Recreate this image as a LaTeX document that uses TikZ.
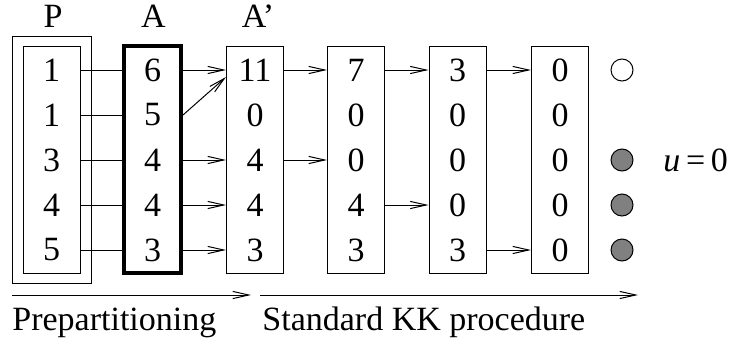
\documentclass[tikz,border=0pt]{standalone}
\usepackage{fontspec}
\setmainfont{Liberation Serif}
\usetikzlibrary{arrows.meta,calc}

\begin{document}
\begin{tikzpicture}[x=0.5pt,y=-0.5pt,
  every node/.style={font=\fontsize{17}{20}\selectfont},
  colbox/.style={draw,line width=0.5pt,minimum width=28.5pt,minimum height=113.5pt,inner sep=0pt},
  entry/.style={inner sep=0pt},
  conn/.style={line width=0.5pt},
  step arrow/.style={conn,-{Straight Barb[length=8pt,width=3.6pt]}},
  token/.style={circle,draw,line width=0.5pt,minimum size=11pt,inner sep=0pt}]

 \useasboundingbox (0,0) rectangle (733,343);

% columns: P, A, A' and the KK steps
 \node[colbox] (P) at (51.5,159.5) {};
 \node[draw,line width=0.5pt,minimum width=39.5pt,minimum height=123.5pt,inner sep=0pt] (Pout) at (51.5,159.5) {};
 \node[colbox,line width=2pt] (A) at (152.5,159.5) {};
 \node[colbox] (Ap) at (255,159.5) {};
 \node[colbox] (K1) at (356,159.5) {};
 \node[colbox] (K2) at (457.5,159.5) {};
 \node[colbox] (K3) at (560,159.5) {};

 \node[anchor=base] (lP) at (53,27) {P};
 \node[anchor=base] (lA) at (153.5,27) {A};
 \node[anchor=base] (lAp) at (258,27) {A'};

% entries
 \foreach \v [count=\j] in {1,1,3,4,5} \node[entry] (P-\j) at (51.5,25+45*\j) {\v};
 \foreach \v [count=\j] in {6,5,4,4,3} \node[entry] (A-\j) at (152.5,25+45*\j) {\v};
 \foreach \v [count=\j] in {11,0,4,4,3} \node[entry] (Ap-\j) at (255,25+45*\j) {\v};
 \foreach \v [count=\j] in {7,0,0,4,3} \node[entry] (K1-\j) at (356,25+45*\j) {\v};
 \foreach \v [count=\j] in {3,0,0,0,3} \node[entry] (K2-\j) at (457.5,25+45*\j) {\v};
 \foreach \v [count=\j] in {0,0,0,0,0} \node[entry] (K3-\j) at (560,25+45*\j) {\v};

% P to A
 \foreach \j in {1,...,5}
  \draw[conn] (P-\j -| P.east) -- (A-\j -| A.west);

% A to A'
 \foreach \j in {1,3,4,5}
  \draw[step arrow] (A-\j -| A.east) -- (Ap-\j -| Ap.west);
 \draw[step arrow] (A-2 -| A.east) -- ($(Ap-1 -| Ap.west)+(0,7)$);

% KK steps
 \draw[step arrow] (Ap-1 -| Ap.east) -- (K1-1 -| K1.west);
 \draw[step arrow] (Ap-3 -| Ap.east) -- (K1-3 -| K1.west);
 \draw[step arrow] (K1-1 -| K1.east) -- (K2-1 -| K2.west);
 \draw[step arrow] (K1-4 -| K1.east) -- (K2-4 -| K2.west);
 \draw[step arrow] (K2-1 -| K2.east) -- (K3-1 -| K3.west);
 \draw[step arrow] (K2-5 -| K2.east) -- (K3-5 -| K3.west);

% partition markers
 \node[token,fill=white] (t1) at (622,70) {};
 \node[token,fill=gray] (t3) at (622,160) {};
 \node[token,fill=gray] (t4) at (622,205) {};
 \node[token,fill=gray] (t5) at (622,250) {};
 \node[anchor=west,inner sep=0pt] (u) at (663,160) {\textit{u}\,=\,0};

% phases
 \coordinate (pa) at (12,295);
 \coordinate (pb) at (251,295);
 \coordinate (sa) at (260,295);
 \coordinate (sb) at (638,295);
 \draw[step arrow] (pa) -- (pb);
 \draw[step arrow] (sa) -- (sb);
 \node[anchor=base west,inner sep=0pt] (pre) at (12,330) {Prepartitioning};
 \node[anchor=base west,inner sep=0pt] (kk) at (262,330) {Standard KK procedure};

\end{tikzpicture}
\end{document}
